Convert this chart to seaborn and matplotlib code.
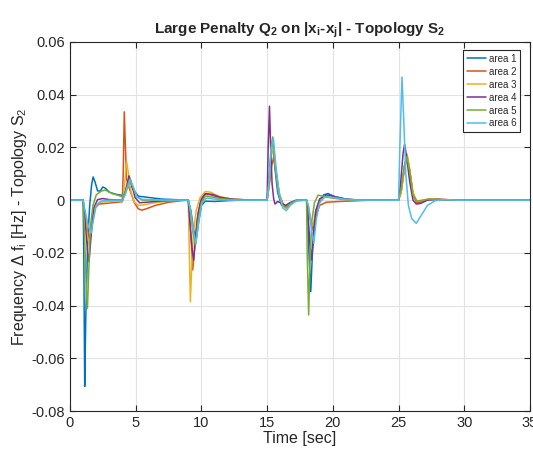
import numpy as np
import pandas as pd
import matplotlib
matplotlib.use("Agg")
import matplotlib.pyplot as plt
import seaborn as sns
from matplotlib.ticker import MultipleLocator, FuncFormatter

t1 = [0, 1.0, 1.05, 1.12, 1.2, 1.35, 1.5, 1.65, 1.76, 1.9, 2.1, 2.3, 2.5, 2.7, 3.0, 3.5, 4.0,
      4.2, 4.5, 4.8, 5.2, 6.0, 7.0, 9.0,
      9.2, 9.4, 9.6, 9.8, 10.0, 10.3, 11.0, 12.0, 13.0, 15.0,
      15.1, 15.3, 15.43, 15.6, 15.8, 16.1, 16.4, 16.8, 17.2, 18.0,
      18.1, 18.2, 18.32, 18.45, 18.7, 19.0, 19.3, 19.64, 20.2, 21.0, 22.0, 25.0,
      25.2, 25.45, 25.64, 25.85, 26.1, 26.4, 26.8, 27.3, 28.0, 29.0, 35.0]
f1 = [0, 0, -0.02, -0.0707, -0.045, -0.015, -0.002, 0.006, 0.0088, 0.007, 0.0035, 0.0035, 0.005, 0.0045, 0.003, 0.0022, 0.0018,
      0.003, 0.0072, 0.004, 0.0015, 0.001, 0.0004, 0,
      -0.004, -0.011, -0.015, -0.008, -0.002, -0.0004, -0.0005, -0.0002, 0, 0,
      0.006, 0.017, 0.0208, 0.012, 0.003, -0.002, -0.0025, -0.001, 0, 0,
      -0.008, -0.022, -0.0347, -0.02, -0.006, -0.0005, 0.002, 0.0025, 0.0012, 0.0004, 0, 0,
      0.004, 0.013, 0.017, 0.011, 0.002, -0.0008, -0.0005, 0.0003, 0.0002, 0, 0]

t2 = [0, 1.0, 1.1, 1.3, 1.5, 1.7, 1.9, 2.2, 2.6, 3.2, 3.98,
      4.05, 4.13, 4.22, 4.3, 4.55, 4.9, 5.2, 5.46, 5.8, 6.5, 7.5, 8.5, 9.0,
      9.1, 9.25, 9.34, 9.45, 9.65, 9.9, 10.3, 10.7, 11.5, 12.5, 14.0, 15.0,
      15.15, 15.35, 15.5, 15.7, 15.95, 16.3, 16.6, 17.2, 18.0,
      18.15, 18.35, 18.5, 18.7, 19.0, 19.5, 20.5, 22.0, 23.0, 25.0,
      25.2, 25.45, 25.65, 25.85, 26.1, 26.4, 26.8, 27.3, 28.0, 29.5, 35.0]
f2 = [0, 0, -0.004, -0.011, -0.0145, -0.009, -0.003, -0.0015, -0.0013, -0.001, -0.0006,
      0.01, 0.0335, 0.02, 0.008, 0.004, -0.001, -0.0033, -0.0038, -0.0033, -0.002, -0.0008, -0.0002, 0,
      -0.006, -0.018, -0.0265, -0.02, -0.008, -0.001, 0.0022, 0.002, 0.0008, 0.0003, 0, 0,
      0.005, 0.013, 0.0164, 0.01, 0.002, -0.0025, -0.002, -0.0003, 0,
      -0.003, -0.009, -0.0114, -0.006, -0.002, -0.0008, -0.0005, -0.0002, 0, 0,
      0.003, 0.012, 0.016, 0.011, 0.002, -0.001, -0.0006, 0.0004, 0.0003, 0, 0]

t3 = [0, 1.0, 1.15, 1.35, 1.5, 1.65, 1.85, 2.2, 3.0, 4.0,
      4.12, 4.31, 4.45, 4.65, 4.9, 5.2, 5.5, 6.2, 7.2, 8.5, 9.0,
      9.06, 9.16, 9.26, 9.4, 9.6, 9.9, 10.3, 10.7, 11.3, 12.2, 13.5, 15.0,
      15.15, 15.35, 15.48, 15.65, 15.9, 16.2, 16.45, 16.8, 17.3, 18.0,
      18.15, 18.35, 18.5, 18.7, 19.0, 19.4, 20.0, 21.0, 22.0, 25.0,
      25.2, 25.45, 25.65, 25.85, 26.1, 26.4, 26.8, 27.3, 28.0, 29.5, 35.0]
f3 = [0, 0, -0.006, -0.015, -0.017, -0.01, -0.003, -0.0008, -0.0005, -0.0003,
      0.004, 0.0146, 0.01, 0.003, -0.0008, -0.0019, -0.0019, -0.0012, -0.0005, 0, 0,
      -0.015, -0.0386, -0.025, -0.012, -0.004, 0.001, 0.0033, 0.003, 0.0015, 0.0005, 0, 0,
      0.006, 0.018, 0.0205, 0.012, 0.003, -0.002, -0.0033, -0.0015, 0, 0,
      -0.003, -0.008, -0.0095, -0.004, 0, 0.0012, 0.0008, 0.0002, 0, 0,
      0.003, 0.012, 0.0175, 0.012, 0.003, -0.0005, -0.0002, 0.0005, 0.0003, 0, 0]

t4 = [0, 1.0, 1.15, 1.35, 1.45, 1.6, 1.8, 2.1, 2.5, 3.0, 4.0,
      4.2, 4.49, 4.7, 4.95, 5.3, 5.8, 7.0, 8.5, 9.0,
      9.12, 9.3, 9.41, 9.55, 9.75, 10.0, 10.3, 10.8, 11.5, 12.5, 14.0, 15.0,
      15.08, 15.18, 15.27, 15.38, 15.5, 15.6, 15.8, 16.1, 16.4, 16.8, 17.3, 18.0,
      18.12, 18.28, 18.37, 18.5, 18.7, 19.0, 19.5, 20.0, 21.0, 22.0, 25.0,
      25.15, 25.35, 25.46, 25.6, 25.85, 26.1, 26.35, 26.7, 27.2, 28.0, 29.5, 35.0]
f4 = [0, 0, -0.008, -0.02, -0.0234, -0.014, -0.003, 0.0002, 0.0006, 0.0002, 0,
      0.003, 0.0092, 0.006, 0.001, -0.001, -0.0008, -0.0003, 0, 0,
      -0.008, -0.019, -0.0228, -0.015, -0.005, 0.0005, 0.0025, 0.0022, 0.001, 0.0003, 0, 0,
      0.02, 0.0356, 0.02, 0.006, 0.0005, -0.0015, -0.0005, -0.0012, -0.002, -0.0008, 0, 0,
      -0.006, -0.018, -0.0227, -0.014, -0.004, 0.0005, 0.002, 0.0015, 0.0004, 0, 0,
      0.006, 0.018, 0.0212, 0.017, 0.007, 0, -0.0015, -0.0012, 0, 0.0003, 0, 0]

t5 = [0, 1.0, 1.1, 1.25, 1.33, 1.42, 1.55, 1.75, 2.0, 2.4, 2.7, 3.2, 4.0,
      4.2, 4.57, 4.8, 5.1, 5.5, 6.5, 9.0,
      9.15, 9.35, 9.55, 9.75, 10.0, 10.3, 10.8, 11.5, 13.0, 15.0,
      15.15, 15.3, 15.43, 15.6, 15.85, 16.15, 16.45, 16.8, 17.3, 18.0,
      18.05, 18.16, 18.25, 18.4, 18.6, 18.88, 19.3, 20.0, 21.0, 22.0, 25.0,
      25.2, 25.45, 25.64, 25.85, 26.1, 26.4, 26.8, 27.3, 28.0, 29.5, 35.0]
f5 = [0, 0, -0.012, -0.035, -0.041, -0.028, -0.01, -0.002, 0.002, 0.0035, 0.0038, 0.0025, 0.0013,
      0.003, 0.0082, 0.005, 0.0012, 0, 0, 0,
      -0.004, -0.012, -0.017, -0.008, -0.001, 0.0015, 0.0012, 0.0005, 0, 0,
      0.007, 0.02, 0.024, 0.014, 0.003, -0.002, -0.0028, -0.0012, 0, 0,
      -0.02, -0.0436, -0.025, -0.008, -0.001, 0.0019, 0.0015, 0.0008, 0.0002, 0, 0,
      0.004, 0.013, 0.0165, 0.011, 0.002, -0.0004, 0, 0.0004, 0.0002, 0, 0]

t6 = [0, 1.0, 1.15, 1.4, 1.6, 1.8, 2.0, 2.4, 3.0, 4.0,
      4.2, 4.57, 4.8, 5.1, 5.5, 7.0, 9.0,
      9.15, 9.35, 9.58, 9.8, 10.05, 10.4, 11.0, 12.0, 15.0,
      15.12, 15.3, 15.48, 15.65, 15.9, 16.2, 16.45, 16.8, 17.3, 18.0,
      18.15, 18.35, 18.55, 18.75, 19.0, 19.4, 20.0, 21.0, 22.0, 25.0,
      25.1, 25.26, 25.4, 25.55, 25.75, 26.0, 26.35, 26.7, 27.2, 27.8, 28.5, 29.5, 35.0]
f6 = [0, 0, -0.004, -0.01, -0.0125, -0.007, -0.002, -0.0003, 0, 0,
      0.002, 0.0076, 0.005, 0.0012, 0.0003, 0, 0,
      -0.003, -0.011, -0.0165, -0.008, -0.001, 0.0008, 0.0004, 0, 0,
      0.006, 0.019, 0.0233, 0.014, 0.003, -0.003, -0.004, -0.0018, 0, 0,
      -0.002, -0.01, -0.0164, -0.007, -0.001, 0.0013, 0.001, 0.0003, 0, 0,
      0.02, 0.0467, 0.03, 0.01, -0.002, -0.007, -0.0088, -0.006, -0.002, -0.0002, 0.0002, 0, 0]

areas = ["area 1", "area 2", "area 3", "area 4", "area 5", "area 6"]
colors = ["#0072BD", "#D95319", "#EDB120", "#7E2F8E", "#77AC30", "#4DBEEE"]

times = [t1, t2, t3, t4, t5, t6]
freqs = [f1, f2, f3, f4, f5, f6]
df = pd.concat([pd.DataFrame({"time": t, "freq": f, "area": a})
                for t, f, a in zip(times, freqs, areas)], ignore_index=True)

sns.set_style("ticks")
plt.rcParams["font.family"] = ["Liberation Sans", "DejaVu Sans"]
plt.rcParams["mathtext.fontset"] = "custom"
plt.rcParams["mathtext.rm"] = "Liberation Sans"
plt.rcParams["mathtext.it"] = "Liberation Sans:italic"
plt.rcParams["mathtext.bf"] = "Liberation Sans:bold"
plt.rcParams["mathtext.default"] = "regular"
plt.rcParams["axes.unicode_minus"] = False

fig = plt.figure(figsize=(5.33, 4.55), dpi=100)
ax = fig.add_axes([0.1313, 0.0967, 0.863, 0.811])

sns.lineplot(data=df, x="time", y="freq", hue="area", palette=colors,
             estimator=None, sort=True, linewidth=1.1, ax=ax)

ax.set_xlim(0, 35)
ax.set_ylim(-0.08, 0.06)
ax.xaxis.set_major_locator(MultipleLocator(5))
ax.yaxis.set_major_locator(MultipleLocator(0.02))
ax.yaxis.set_major_formatter(FuncFormatter(lambda v, p: f"{v:g}" if abs(v) > 1e-9 else "0"))
ax.grid(True, color="#e3e3e3", linewidth=0.8)
ax.set_axisbelow(True)
ax.tick_params(direction="in", top=True, right=True, labelsize=10.5,
               colors="#262626", length=4, width=0.8)
for s in ax.spines.values():
    s.set_color("#262626")
    s.set_linewidth(0.8)

ax.set_xlabel("Time [sec]", fontsize=11.5, color="#262626", labelpad=1)
ax.set_ylabel(r"Frequency $\Delta$ f$_i$ [Hz] - Topology S$_2$", fontsize=11.5,
              color="#262626", labelpad=2)
ax.set_title(r"Large Penalty Q$_2$ on |x$_i$-x$_j$| - Topology S$_2$",
             fontsize=11, fontweight="bold", pad=6)

leg = ax.legend(loc="upper right", fontsize=7, frameon=True, fancybox=False,
                edgecolor="#262626", framealpha=1, handlelength=2.0,
                borderpad=0.35, labelspacing=0.3, handletextpad=0.3,
                borderaxespad=0.3, bbox_to_anchor=(0.985, 0.985))
leg.get_frame().set_linewidth(0.8)

fig.savefig("out.png", dpi=100)
